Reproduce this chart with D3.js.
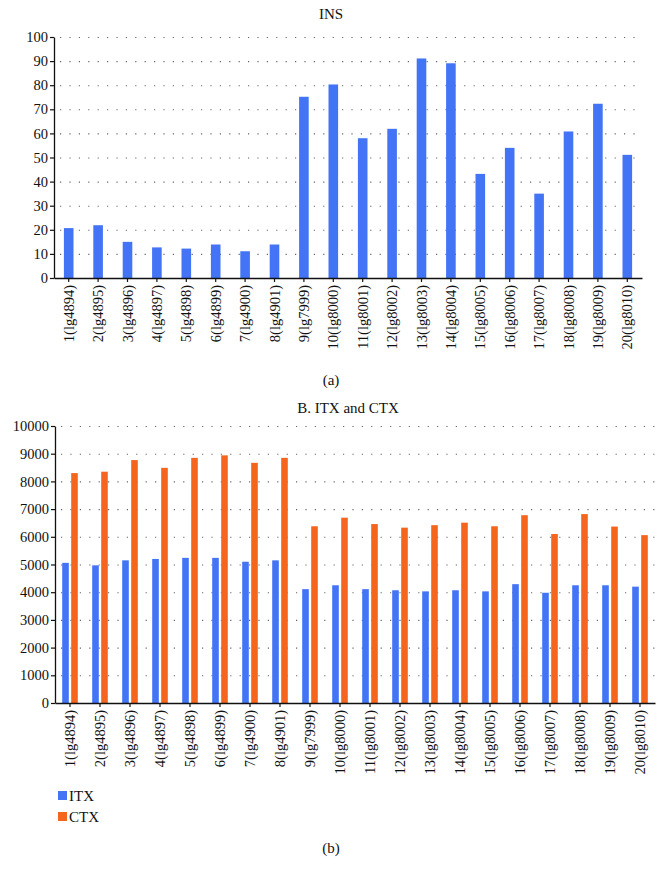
<!DOCTYPE html>
<html><head><meta charset="utf-8">
<script src="https://cdn.jsdelivr.net/npm/d3@7"></script>
<style>
html,body{margin:0;padding:0;background:#fff;}
svg text{font-family:"Liberation Serif","Tinos","Times New Roman","DejaVu Serif",serif !important;fill:#111;}
</style></head>
<body>
<svg id="chart" width="665" height="881"></svg>
<script>
const categories = ["1(lg4894)","2(lg4895)","3(lg4896)","4(lg4897)","5(lg4898)","6(lg4899)","7(lg4900)","8(lg4901)","9(lg7999)","10(lg8000)","11(lg8001)","12(lg8002)","13(lg8003)","14(lg8004)","15(lg8005)","16(lg8006)","17(lg8007)","18(lg8008)","19(lg8009)","20(lg8010)"];
const insValues = [20.7,21.9,15.0,12.7,12.2,13.9,11.1,13.9,75.2,80.3,58.0,61.9,91.1,89.1,43.2,54.0,35.0,60.8,72.3,51.1];
const itxValues = [5060,4970,5150,5200,5240,5240,5100,5150,4110,4250,4110,4070,4030,4070,4030,4290,3980,4250,4250,4200];
const ctxValues = [8300,8350,8770,8490,8850,8940,8670,8850,6380,6690,6460,6330,6420,6510,6380,6780,6100,6820,6370,6060];
const insTicks = [0,10,20,30,40,50,60,70,80,90,100];
const bTicks = [0,1000,2000,3000,4000,5000,6000,7000,8000,9000,10000];
const seriesNames = ["ITX","CTX"];
const colors = {ins:"#4274f5", ITX:"#4274f5", CTX:"#f4651d"};
const FONT = "'Liberation Serif','Tinos','Times New Roman','DejaVu Serif',serif";

const svg = d3.select("#chart");

function drawPanel(opts){
  const g = svg.append("g");
  const x = d3.scaleBand().domain(categories).range([opts.x0, opts.x1]);
  const y = d3.scaleLinear().domain([0, opts.max]).range([opts.y0, opts.y1]);
  g.selectAll(".grid").data(opts.ticks.filter(t=>t>0)).enter().append("line")
    .attr("x1", opts.x0+6).attr("x2", opts.gridEnd)
    .attr("y1", d=>y(d)+0.5).attr("y2", d=>y(d)+0.5)
    .attr("stroke","#666").attr("stroke-width",1.1)
    .attr("stroke-dasharray","1.2,8.2");
  const bars = g.append("g");
  const ya = g.append("g").attr("transform",`translate(${opts.x0},0)`)
    .call(d3.axisLeft(y).tickValues(opts.ticks).tickSize(4).tickSizeOuter(0).tickFormat(d3.format("d")))
    .attr("font-family", FONT);
  ya.select(".domain").attr("stroke","#111").attr("stroke-width",1.3);
  ya.selectAll(".tick line").attr("stroke","#111").attr("stroke-width",1.2);
  ya.selectAll(".tick text").attr("font-size",14.5).attr("x",-6).attr("fill","#111");
  const xa = g.append("g").attr("transform",`translate(0,${opts.y0})`)
    .call(d3.axisBottom(x).tickSize(4).tickSizeOuter(0))
    .attr("font-family", FONT);
  xa.select(".domain").attr("stroke","#111").attr("stroke-width",1.4);
  xa.selectAll(".tick line").attr("stroke","#111").attr("stroke-width",1.2);
  xa.selectAll(".tick text").attr("font-size",14.5).attr("fill","#111")
    .attr("text-anchor","end").attr("transform","rotate(-90)")
    .attr("x",-7).attr("y",0).attr("dy","0.35em");
  svg.append("text").attr("x",opts.titleX).attr("y",opts.titleY)
    .attr("text-anchor","middle").attr("font-size",15).attr("font-family",FONT).text(opts.title);
  return {g,bars,x,y};
}

// Panel (a)
const pa = drawPanel({x0:54,x1:642,y0:278,y1:37,max:100,ticks:insTicks,gridEnd:642,title:"INS",titleX:331,titleY:19});
pa.bars.selectAll("rect").data(insValues).enter().append("rect")
  .attr("x",(d,i)=>pa.x(categories[i])+pa.x.bandwidth()/2-4.8)
  .attr("width",9.6)
  .attr("y",d=>pa.y(d)).attr("height",d=>pa.y(0)-pa.y(d))
  .attr("fill",colors.ins);

svg.append("text").attr("x",331).attr("y",385).attr("text-anchor","middle").attr("font-size",15).attr("font-family",FONT).text("(a)");

// Panel (b)
const pb = drawPanel({x0:55,x1:655,y0:703,y1:426,max:10000,ticks:bTicks,gridEnd:660,title:"B. ITX and CTX",titleX:348,titleY:413});
const bw = 6.6, gap = 1.2;
pb.bars.selectAll("rect.itx").data(itxValues).enter().append("rect").attr("class","itx")
  .attr("x",(d,i)=>pb.x(categories[i])+pb.x.bandwidth()/2-gap-bw)
  .attr("width",bw)
  .attr("y",d=>pb.y(d)).attr("height",d=>pb.y(0)-pb.y(d))
  .attr("fill",colors.ITX);
pb.bars.selectAll("rect.ctx").data(ctxValues).enter().append("rect").attr("class","ctx")
  .attr("x",(d,i)=>pb.x(categories[i])+pb.x.bandwidth()/2+gap)
  .attr("width",bw)
  .attr("y",d=>pb.y(d)).attr("height",d=>pb.y(0)-pb.y(d))
  .attr("fill",colors.CTX);

// Legend
const leg = svg.append("g").selectAll("g").data(seriesNames).enter().append("g")
  .attr("transform",(d,i)=>`translate(58,${791+i*21})`);
leg.append("rect").attr("width",9).attr("height",9).attr("fill",d=>colors[d]);
leg.append("text").attr("x",11).attr("y",9.5).attr("font-size",15).attr("font-family",FONT).text(d=>d);

svg.append("text").attr("x",331).attr("y",853).attr("text-anchor","middle").attr("font-size",15).attr("font-family",FONT).text("(b)");
</script>
</body></html>
